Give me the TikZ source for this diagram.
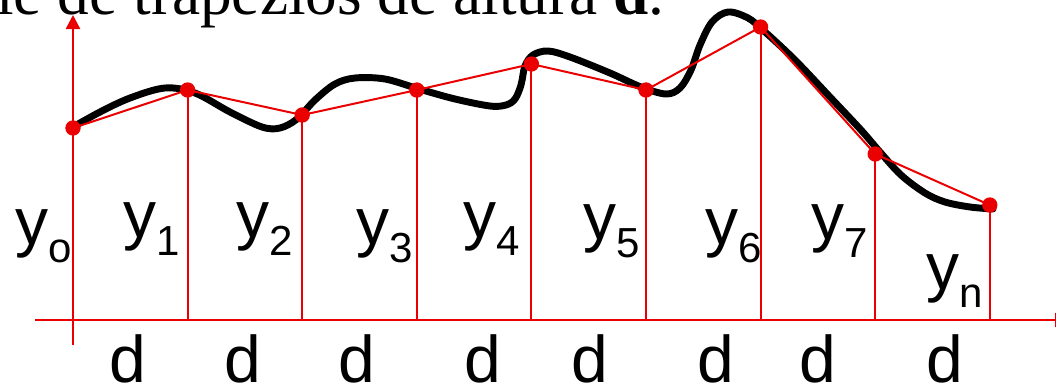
\documentclass[tikz,border=0pt]{standalone}
\usepackage{fontspec}
\setmainfont{Liberation Serif}
\newfontfamily\arialfont{Liberation Sans}
\usetikzlibrary{arrows.meta}
\definecolor{plotred}{RGB}{234,0,0}
\newcommand{\ylab}[1]{y\raisebox{-13.5pt}{\fontsize{31.5}{32}\selectfont #1}}

\begin{document}
\begin{tikzpicture}[x=0.75pt,y=-0.75pt,
  every node/.style={inner sep=0pt},
  axis/.style={plotred,line width=1.8pt},
  ordline/.style={plotred,line width=1.5pt},
  dot/.style={circle,fill=plotred,minimum size=11.5pt},
  ylbl/.style={font=\arialfont\fontsize{49.5}{50}\selectfont,anchor=base west},
  dlbl/.style={font=\arialfont\fontsize{49.5}{50}\selectfont,anchor=base}]
  \useasboundingbox (0,0) rectangle (1056,390);
  \clip (0,0) rectangle (1056,390);

  \node[anchor=base west,font=\fontsize{47.5}{48}\selectfont] (title) at (-4,14)
    {le de trapezios de altura \textbf{d}.};

  \coordinate (xa) at (35,320);
  \coordinate (xb) at (1069,320);
  \coordinate (ya) at (73,345);
  \coordinate (yb) at (73,15);
  \draw[axis,-{Triangle[length=10.5pt,width=10.5pt]}] (ya) -- (yb);
  \draw[axis,-{Triangle[length=10.5pt,width=10.5pt]}] (xa) -- (xb);

  \foreach \i/\h in {0/128,1/90,2/115,3/90,4/64,5/90,6/27,7/154,8/205}
    \coordinate (p\i) at ({73+114.6*\i},\h);

  \foreach \i in {1,...,8}
    \draw[ordline] (p\i) -- (p\i |- xa);

  \draw[line width=5.2pt,line cap=round] plot[smooth,tension=0.55] coordinates {
    (73,127) (100,112) (130,98) (165,88) (195,93) (230,112) (262,127) (280,128)
    (297,119) (315,100) (335,84) (355,78) (385,79) (419,89) (455,99) (490,106)
    (506,105) (515,99) (521,85) (525,66) (533,55) (548,51) (570,57) (610,73)
    (641,87) (666,94) (680,88) (691,70) (700,45) (712,22) (728,12) (748,18)
    (764,31) (795,60) (830,97) (861,130) (880,152) (901,175) (925,193) (945,202)
    (970,207) (993,209)};

  \draw[ordline] (p0) \foreach \i in {1,...,8} {-- (p\i)};
  \foreach \i in {0,...,8}
    \node[dot] (d\i) at (p\i) {};

  \node[ylbl] (y0) at (15,244) {\ylab{o}};
  \node[ylbl] (y1) at (123,237) {\ylab{1}};
  \node[ylbl] (y2) at (236,237) {\ylab{2}};
  \node[ylbl] (y3) at (356,244) {\ylab{3}};
  \node[ylbl] (y4) at (463,237) {\ylab{4}};
  \node[ylbl] (y5) at (583,239) {\ylab{5}};
  \node[ylbl] (y6) at (705,244) {\ylab{6}};
  \node[ylbl] (y7) at (811,239) {\ylab{7}};
  \node[ylbl] (yn) at (926,289) {\ylab{n}};

  \foreach \i/\x in {1/128,2/243,3/357,4/483,5/590,6/716,7/818,8/945}
    \node[dlbl] (w\i) at (\x,382) {d};
\end{tikzpicture}
\end{document}
